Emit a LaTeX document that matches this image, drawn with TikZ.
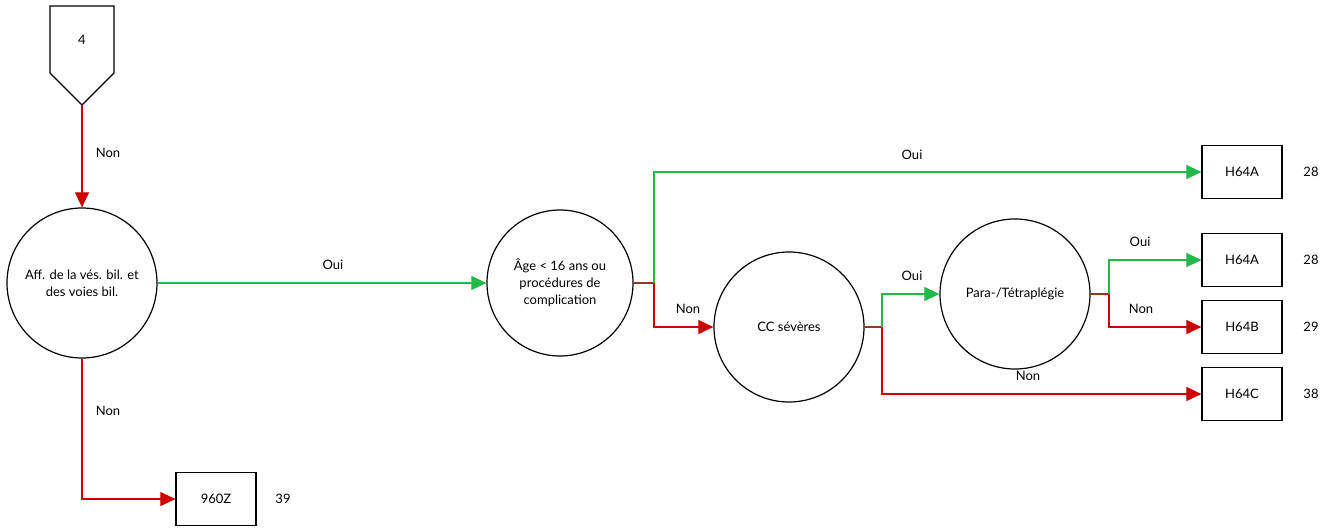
\documentclass[tikz,border=0pt]{standalone}
\usepackage{fontspec}
\setmainfont{Lato}
\usetikzlibrary{arrows.meta}
\definecolor{cgreen}{HTML}{22B84A}
\definecolor{cred}{HTML}{CC0000}
\definecolor{cbrown}{HTML}{8E3A1C}
\begin{document}
\begin{tikzpicture}[x=1pt,y=-1pt,
  font=\fontsize{13}{17}\selectfont,
  dec/.style={circle, draw, line width=1.2pt, minimum size=150pt, inner sep=0pt, align=center},
  leaf/.style={rectangle, draw, line width=1.2pt, minimum width=80pt, minimum height=53pt, inner sep=0pt},
  yes/.style={draw=cgreen, line width=1.1pt, -{Triangle[length=15pt,width=14pt]}},
  no/.style={draw=cred, line width=1.1pt, -{Triangle[length=15pt,width=14pt]}},
  stub/.style={draw=cbrown, line width=1.1pt},
  lbl/.style={inner sep=0pt}]
\useasboundingbox (0,0) rectangle (1340,529);
% entry pentagon
\draw[line width=1.2pt] (50,6) -- (114,6) -- (114,73) -- (82,105) -- (50,73) -- cycle;
\node[lbl] (n4) at (82,40) {4};
\coordinate (pent) at (82,105);
% decision circles
\node[dec] (c1) at (82,283) {Aff. de la vés. bil. et\\des voies bil.};
\node[dec, minimum size=146pt] (c2) at (560,283) {Âge < 16 ans ou\\procédures de\\complication};
\node[dec] (c3) at (789,327) {CC sévères};
\node[dec] (c4) at (1015,294) {Para-/Tétraplégie};
% leaves
\node[leaf] (b1) at (1242,172) {H64A};
\node[leaf] (b2) at (1242,260) {H64A};
\node[leaf] (b3) at (1242,327) {H64B};
\node[leaf] (b4) at (1242,394) {H64C};
\node[leaf] (b5) at (216,499) {960Z};
\node[lbl] (v1) at (1311,172) {28};
\node[lbl] (v2) at (1311,260) {28};
\node[lbl] (v3) at (1311,327) {29};
\node[lbl] (v4) at (1311,394) {38};
\node[lbl] (v5) at (283,499) {39};
% junctions
\coordinate (j2) at (654,283);
\coordinate (j3) at (882,327);
\coordinate (j4) at (1109,294);
% connectors
\draw[no] (pent) -- (c1.north);
\draw[yes] (c1.east) -- (c2.west);
\draw[no] (c1.south) |- (b5.west);
\draw[stub] (c2.east) -- (j2);
\draw[yes] (j2) |- (b1.west);
\draw[no] (j2) |- (c3.west);
\draw[stub] (c3.east) -- (j3);
\draw[yes] (j3) |- (c4.west);
\draw[no] (j3) |- (b4.west);
\draw[stub] (c4.east) -- (j4);
\draw[yes] (j4) |- (b2.west);
\draw[no] (j4) |- (b3.west);
% labels
\node[lbl] at (108,153) {Non};
\node[lbl] at (333,265) {Oui};
\node[lbl] at (912,155) {Oui};
\node[lbl] at (688,309) {Non};
\node[lbl] at (912,276) {Oui};
\node[lbl] at (1028,376) {Non};
\node[lbl] at (1140,242) {Oui};
\node[lbl] at (1141,309) {Non};
\node[lbl] at (108,411) {Non};
\end{tikzpicture}
\end{document}
